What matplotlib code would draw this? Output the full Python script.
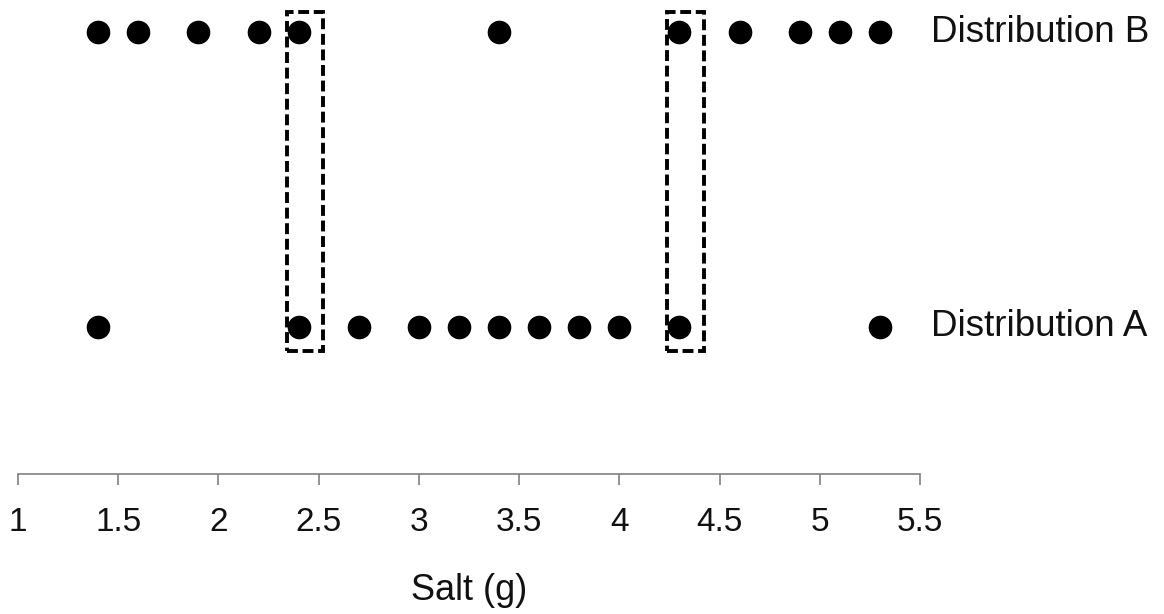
import matplotlib
matplotlib.use("Agg")
import matplotlib.pyplot as plt
from matplotlib.patches import Rectangle

plt.rcParams['font.family'] = ['Liberation Sans', 'DejaVu Sans']

dist_b = [1.4, 1.6, 1.9, 2.2, 2.4, 3.4, 4.3, 4.6, 4.9, 5.1, 5.3]
dist_a = [1.4, 2.4, 2.7, 3.0, 3.2, 3.4, 3.6, 3.8, 4.0, 4.3, 5.3]
highlights = [2.4, 4.3]
series_labels = ["Distribution A", "Distribution B"]
xticks = [1, 1.5, 2, 2.5, 3, 3.5, 4, 4.5, 5, 5.5]
xtick_labels = ["1", "1.5", "2", "2.5", "3", "3.5", "4", "4.5", "5", "5.5"]
xlabel = "Salt (g)"

W, H = 1164, 614
fig = plt.figure(figsize=(W / 100, H / 100), dpi=100)
ax = fig.add_axes([18 / W, (H - 474) / H, (920 - 18) / W, 474 / H])
ax.set_xlim(1, 5.5)
ax.set_ylim(0, 1)

y_a = 1 - 327 / 474
y_b = 1 - 32 / 474

ax.plot(dist_b, [y_b] * len(dist_b), 'o', color='black', ms=16, clip_on=False)
ax.plot(dist_a, [y_a] * len(dist_a), 'o', color='black', ms=16, clip_on=False)

rect_bottom = 1 - 351 / 474
rect_top = 1 - 12 / 474
for h in highlights:
    r = Rectangle((h - 0.06, rect_bottom), 0.18, rect_top - rect_bottom,
                  fill=False, edgecolor='black', lw=2.8, linestyle=(0, (2.8, 1.2)),
                  joinstyle='miter', clip_on=False)
    ax.add_patch(r)

for lab, yv in zip(series_labels, [y_a, y_b]):
    ax.annotate(lab, xy=(1.0, yv), xycoords=('axes fraction', 'data'),
                xytext=(8, 0), textcoords='offset points',
                ha='left', va='center', fontsize=26.5, color='#111111')

for s in ['top', 'left', 'right']:
    ax.spines[s].set_visible(False)
ax.spines['bottom'].set_color('#808080')
ax.spines['bottom'].set_linewidth(1.2)
ax.set_yticks([])
ax.set_xticks(xticks)
ax.set_xticklabels(xtick_labels, fontsize=24, color='#111111')
ax.tick_params(axis='x', direction='out', length=8, width=1.2, color='#808080', pad=16)
ax.set_xlabel(xlabel, fontsize=26, color='#111111', labelpad=25)

fig.savefig("out.png", dpi=100, facecolor='white')
